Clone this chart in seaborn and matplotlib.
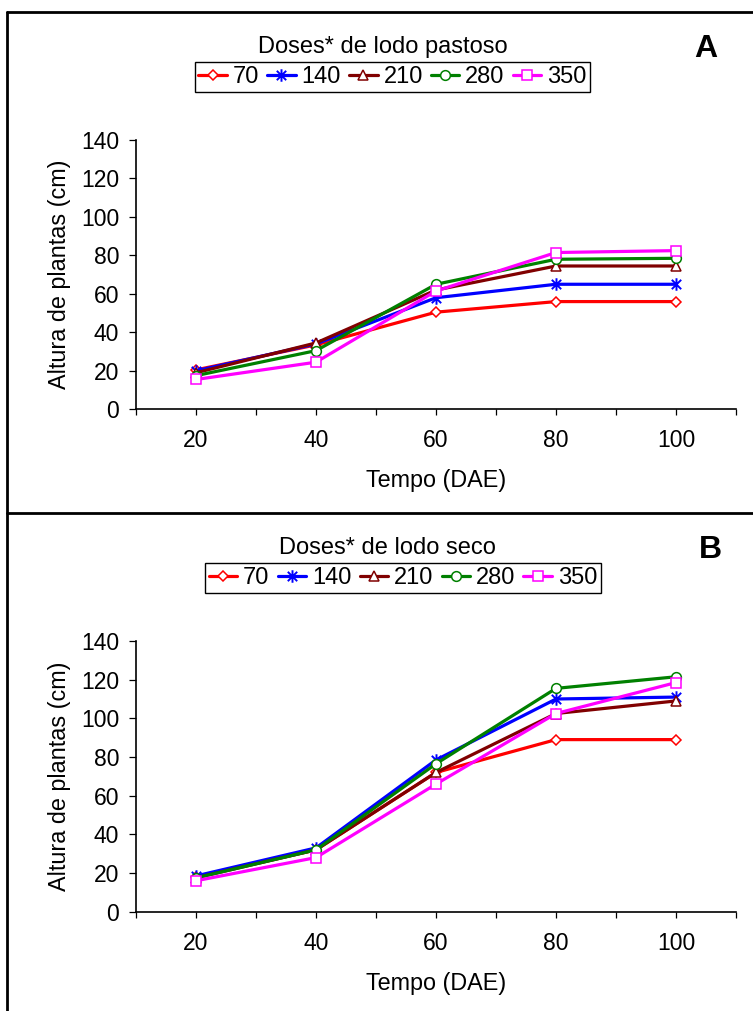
import matplotlib
matplotlib.use("Agg")
import matplotlib.pyplot as plt
import seaborn as sns
from matplotlib.lines import Line2D
from matplotlib.path import Path

# Data
tempo = [20, 40, 60, 80, 100]
doses = ["70", "140", "210", "280", "350"]

# A - lodo pastoso
pastoso_70 = [20.5, 33.5, 50.5, 56.0, 56.0]
pastoso_140 = [20.0, 34.0, 58.0, 65.0, 65.0]
pastoso_210 = [19.0, 34.5, 62.0, 74.5, 74.5]
pastoso_280 = [17.5, 30.5, 65.0, 78.0, 78.5]
pastoso_350 = [15.5, 24.5, 61.5, 81.5, 82.5]

# B - lodo seco
seco_70 = [18.0, 32.0, 72.0, 89.0, 89.0]
seco_140 = [18.5, 33.0, 78.5, 110.0, 111.0]
seco_210 = [17.5, 32.0, 72.0, 102.5, 109.0]
seco_280 = [17.5, 32.0, 76.5, 115.5, 121.5]
seco_350 = [16.0, 28.0, 66.0, 102.5, 118.5]

x_ticks = [10, 20, 30, 40, 50, 60, 70, 80, 90, 100, 110]
x_ticklabels = ["", "20", "", "40", "", "60", "", "80", "", "100", ""]
y_ticks = [0, 20, 40, 60, 80, 100, 120, 140]

# Excel-like star: an "x" plus a vertical bar
star = Path([(-0.75, -0.75), (0.75, 0.75), (-0.75, 0.75), (0.75, -0.75), (0, -1), (0, 1)],
            [Path.MOVETO, Path.LINETO, Path.MOVETO, Path.LINETO, Path.MOVETO, Path.LINETO])

colors = ["#FF0000", "#0000FF", "#800000", "#008000", "#FF00FF"]
markers = ["D", star, "^", "o", "s"]
msizes = [5.3, 9, 7, 7, 7.5]

sns.set_theme(style="white")
plt.rcParams["font.family"] = ["Liberation Sans", "DejaVu Sans"]
plt.rcParams["axes.edgecolor"] = "black"
plt.rcParams["text.color"] = "black"
plt.rcParams["axes.labelcolor"] = "black"
plt.rcParams["xtick.color"] = "black"
plt.rcParams["ytick.color"] = "black"

W, H = 753, 1011
fig = plt.figure(figsize=(W / 100, H / 100), dpi=100)


def fx(px):
    return px / W


def fy(py):
    return 1 - py / H


# outer frame (right and bottom edges cut off in the original)
lw_frame = 2.0
fig.add_artist(Line2D([fx(7), fx(7)], [fy(12), 0], color="black", lw=lw_frame))
fig.add_artist(Line2D([fx(7), 1], [fy(12), fy(12)], color="black", lw=lw_frame))
fig.add_artist(Line2D([fx(7), 1], [fy(513), fy(513)], color="black", lw=lw_frame))


def draw_panel(rect, series, title, title_xy, leg_xy, letter, letter_xy):
    ax = fig.add_axes(rect)
    for i, (vals, dose, c, m, ms) in enumerate(zip(series, doses, colors, markers, msizes)):
        sns.lineplot(x=tempo, y=vals, ax=ax, color=c, marker=m, markersize=ms,
                     markerfacecolor="white", markeredgecolor=c,
                     markeredgewidth=1.4 if i == 1 else 1.1,
                     linewidth=2.3, label=dose)
    ax.set_xlim(10, 110)
    ax.set_ylim(0, 140)
    ax.set_xticks(x_ticks)
    ax.set_xticklabels(x_ticklabels)
    ax.set_yticks(y_ticks)
    sns.despine(ax=ax)
    for s in ["left", "bottom"]:
        ax.spines[s].set_linewidth(1.2)
        ax.spines[s].set_color("black")
    ax.tick_params(axis="x", direction="out", length=4.5, width=0.9, pad=10,
                   labelsize=16.5, bottom=True)
    ax.tick_params(axis="y", direction="out", length=5, width=0.9, pad=7,
                   labelsize=16.5, left=True)
    ax.set_xlabel("Tempo (DAE)", fontsize=16.8, va="center")
    ax.xaxis.set_label_coords(0.5, -0.266)
    ax.set_ylabel("Altura de plantas (cm)", fontsize=16.8, va="center")
    ax.yaxis.set_label_coords(-0.128, 0.5)

    handles, labels = ax.get_legend_handles_labels()
    leg = ax.legend(handles, labels, loc="center", ncol=5,
                    bbox_to_anchor=(fx(leg_xy[0]), fy(leg_xy[1])),
                    bbox_transform=fig.transFigure, frameon=True, fancybox=False,
                    edgecolor="black", framealpha=1, fontsize=17,
                    borderpad=0.15, handlelength=1.2, handletextpad=0.25,
                    columnspacing=0.35, borderaxespad=0)
    leg.get_frame().set_linewidth(1.0)

    fig.text(fx(title_xy[0]), fy(title_xy[1]), title, ha="center", va="center",
             fontsize=17)
    fig.text(fx(letter_xy[0]), fy(letter_xy[1]), letter, ha="center", va="center",
             fontsize=23, fontweight="bold")
    return ax


draw_panel([fx(136), fy(409.3), fx(736) - fx(136), fy(140) - fy(409.3)],
           [pastoso_70, pastoso_140, pastoso_210, pastoso_280, pastoso_350],
           "Doses* de lodo pastoso", (383, 47), (392.5, 77), "A", (706, 49))

draw_panel([fx(136), fy(911.7), fx(736) - fx(136), fy(641) - fy(911.7)],
           [seco_70, seco_140, seco_210, seco_280, seco_350],
           "Doses* de lodo seco", (387, 548), (403, 578), "B", (710, 550))

fig.savefig("out.png", dpi=100)
